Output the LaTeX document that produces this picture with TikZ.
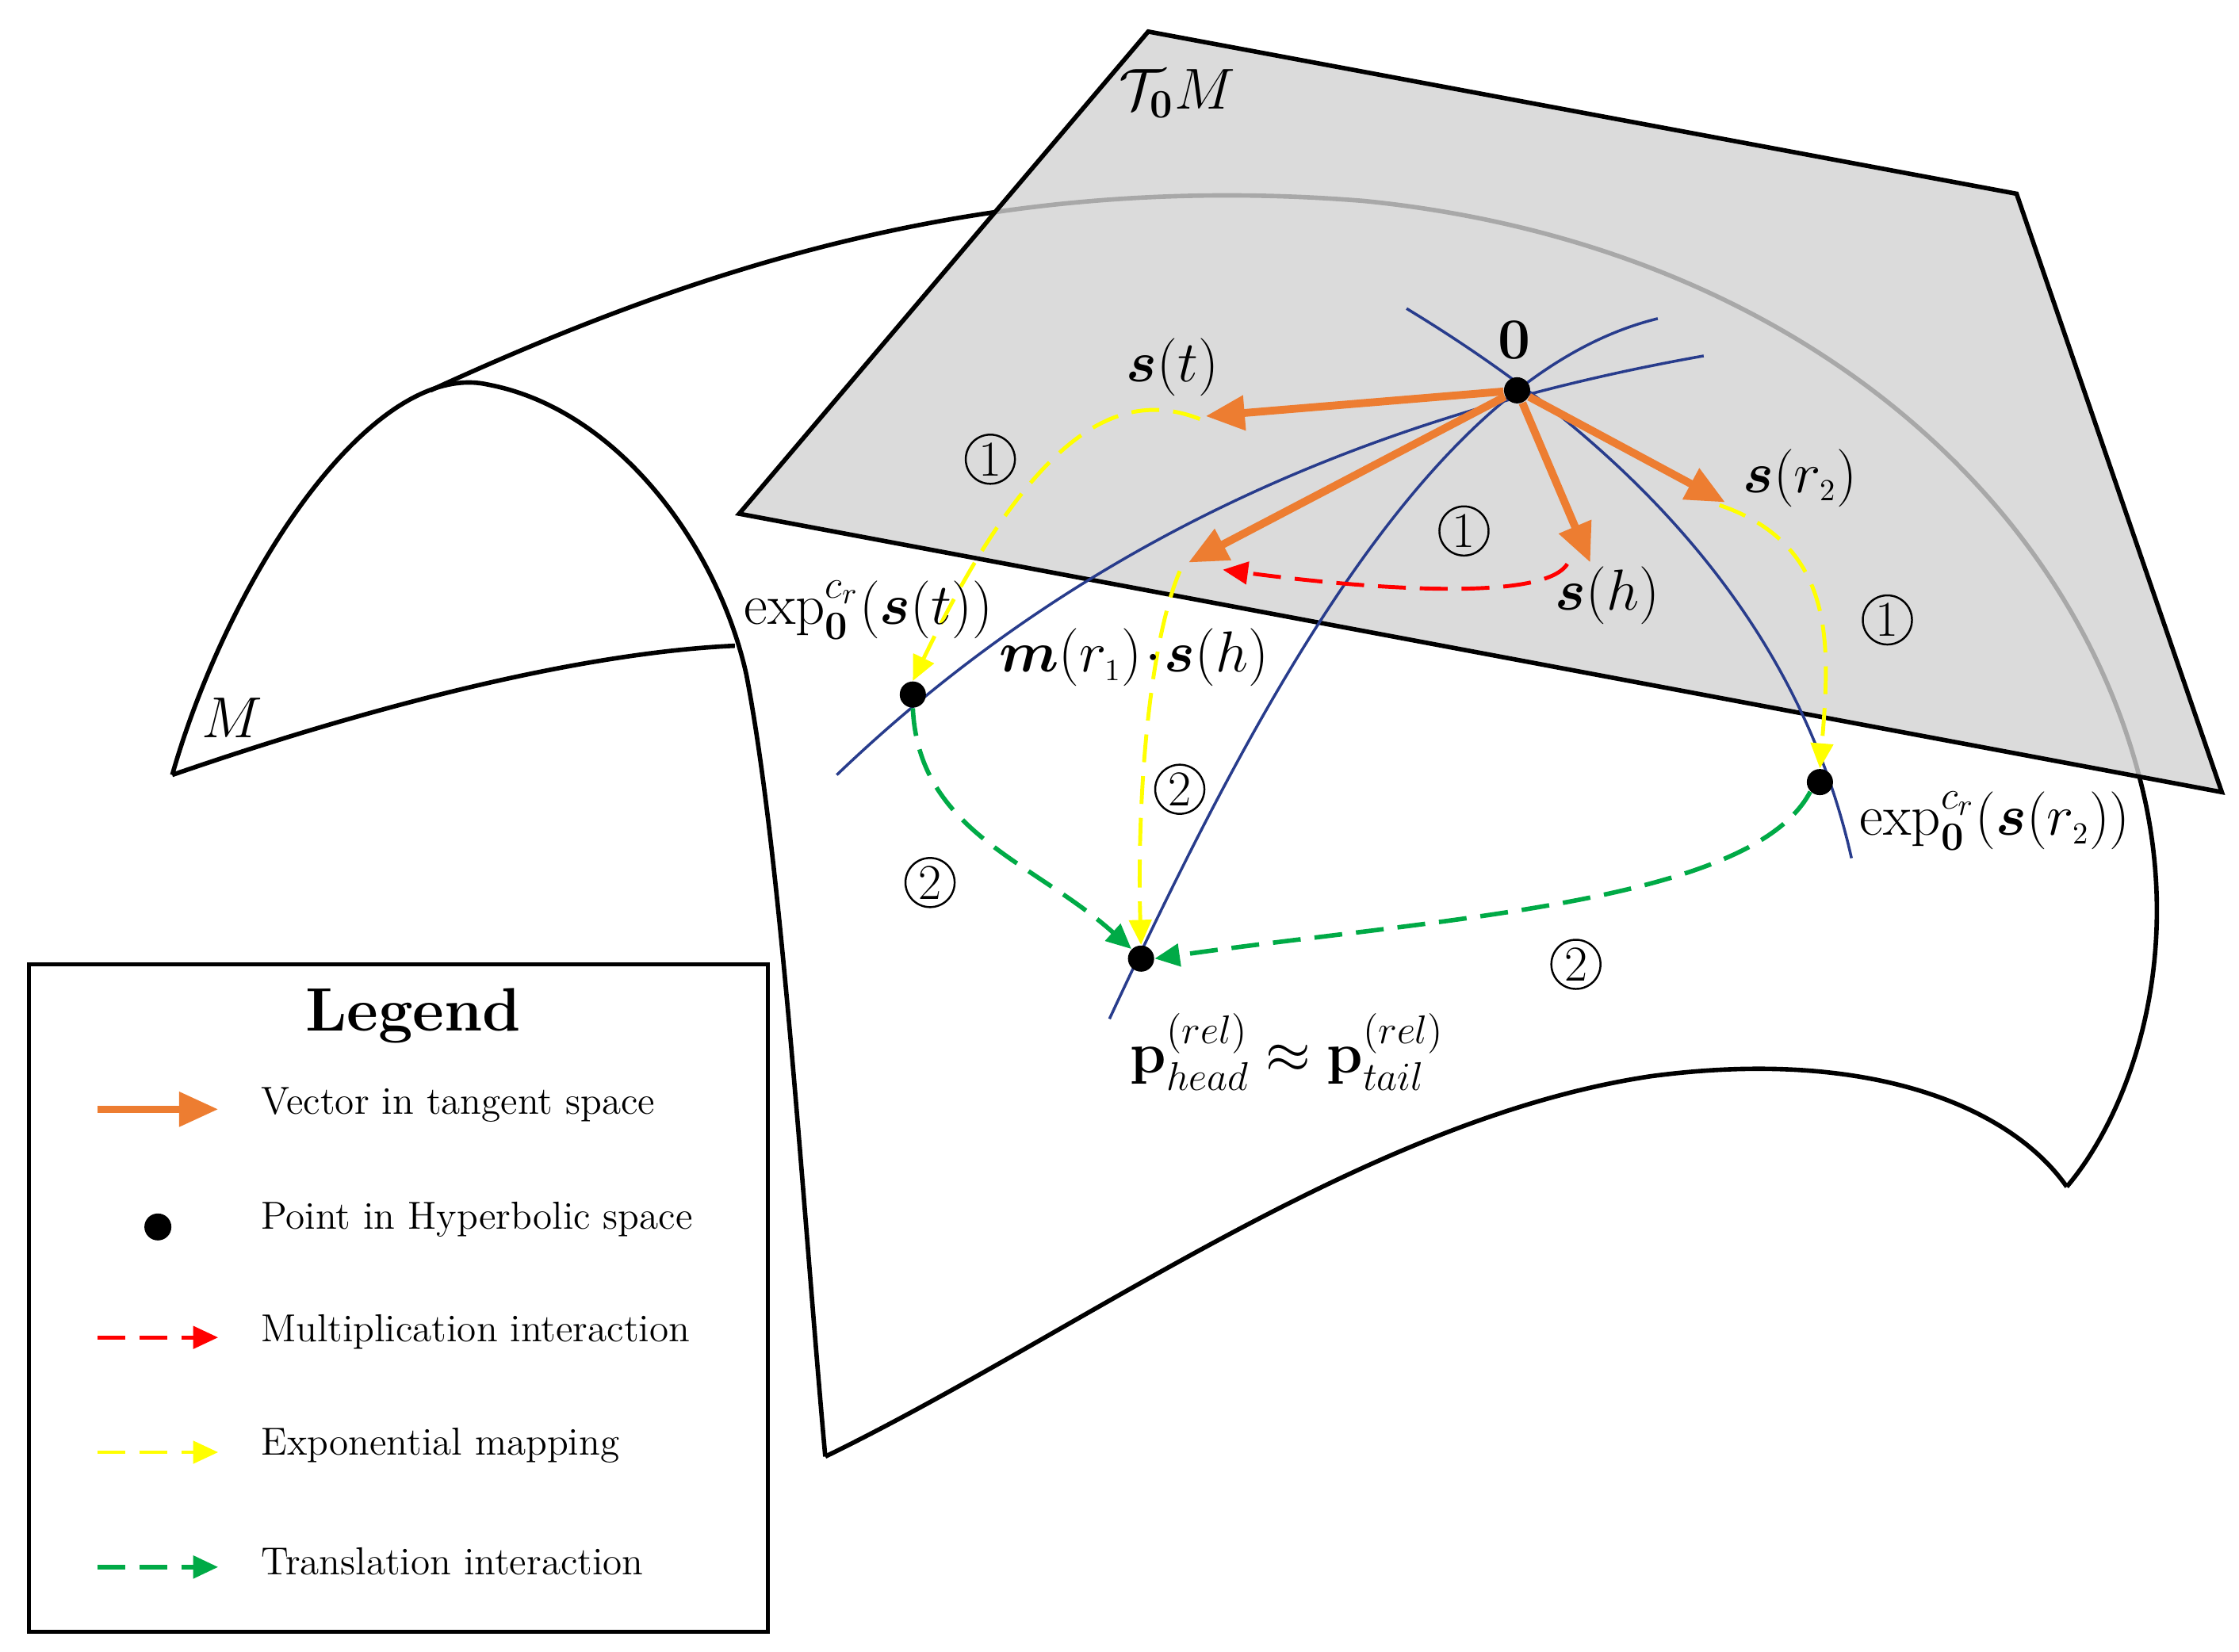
\documentclass[tikz,border=0pt]{standalone}
\usepackage{amsmath,bm}
\usetikzlibrary{arrows.meta}
\definecolor{org}{RGB}{237,125,49}
\definecolor{ylw}{RGB}{255,255,0}
\definecolor{grn}{RGB}{0,170,70}
\definecolor{blu}{RGB}{40,60,140}
\begin{document}
\begin{tikzpicture}[x=0.0181cm,y=-0.0181cm,
  edge/.style={line width=1.6pt,black},
  blue/.style={blu,line width=1pt},
  vec/.style={org,line width=2.8pt,-{Triangle[length=14pt,width=12pt]}},
  dot/.style={circle,fill=black,inner sep=0pt,minimum size=0.33cm},
  mul/.style={red,dashed,line width=1.4pt,dash pattern=on 10pt off 5pt,-{Triangle[length=9pt,width=8pt]}},
  ex/.style={ylw,line width=1.4pt,dash pattern=on 10pt off 5pt,-{Triangle[length=9pt,width=8pt]}},
  tr/.style={grn,line width=1.6pt,dash pattern=on 10pt off 5pt,-{Triangle[length=9pt,width=8pt]}},
  lab/.style={font=\fontsize{21}{25}\selectfont},
  cn/.style={circle,draw,line width=0.7pt,inner sep=0pt,minimum size=0.62cm,font=\fontsize{18}{20}\selectfont},
  leg/.style={anchor=west,font=\fontsize{14}{16}\selectfont}]
\useasboundingbox (0,0) rectangle (1560,1151);
% manifold
\draw[edge] (120,540) .. controls (160,400) and (260,250) .. (340,268)
  .. controls (430,285) and (500,380) .. (520,470)
  .. controls (545,600) and (560,850) .. (575,1015);
\draw[edge] (120,540) .. controls (250,495) and (400,455) .. (512,450);
\draw[edge] (300,272) .. controls (500,180) and (700,120) .. (950,140)
  .. controls (1250,170) and (1450,350) .. (1495,560)
  .. controls (1520,680) and (1480,780) .. (1440,827);
\draw[edge] (575,1015) .. controls (750,930) and (950,780) .. (1150,750)
  .. controls (1300,730) and (1400,770) .. (1440,827);
% plane
\draw[edge,fill=gray!35,fill opacity=0.8] (515,358) -- (800,22) -- (1405,135) -- (1548,552) -- cycle;
% blue curves
\draw[blue] (583,540) .. controls (750,380) and (950,290) .. (1187,248);
\draw[blue] (773,710) .. controls (880,480) and (1000,260) .. (1155,222);
\draw[blue] (980,215) .. controls (1120,300) and (1250,420) .. (1290,598);
% points
\node[dot] (o) at (1057,272) {};
\node[dot] (et) at (636,484) {};
\node[dot] (p) at (795,668) {};
\node[dot] (er) at (1268,545) {};
\coordinate (st) at (840,290);
\coordinate (ms) at (828,392);
\coordinate (sh) at (1108,392);
\coordinate (sr) at (1202,350);
\draw[vec] (o) -- (st);
\draw[vec] (o) -- (ms);
\draw[vec] (o) -- (sh);
\draw[vec] (o) -- (sr);
\draw[mul] (1092,393) .. controls (1075,420) and (950,410) .. (852,397);
\draw[ex] (836,292) .. controls (780,270) and (720,300) .. (et.north);
\draw[ex] (822,398) .. controls (800,450) and (792,560) .. (p.north);
\draw[ex] (1198,352) .. controls (1280,380) and (1275,450) .. (er.north);
\draw[tr] (et.south) .. controls (640,580) and (720,600) .. (p.north west);
\draw[tr] (er.south west) .. controls (1220,630) and (1000,640) .. (p.east);
% labels
\node[lab] at (820,65) {$\mathcal{T}_{\mathbf{0}}M$};
\node[lab] at (162,500) {$M$};
\node[lab] at (1055,237) {$\mathbf{0}$};
\node[lab] at (817,256) {$\bm{s}(t)$};
\node[lab] at (1254,333) {$\bm{s}(r_{\scriptscriptstyle 2})$};
\node[lab] at (1120,415) {$\bm{s}(h)$};
\node[lab] at (790,458) {$\bm{m}(r_{\scriptscriptstyle 1})\!\cdot\!\bm{s}(h)$};
\node[lab] at (605,425) {$\exp_{\mathbf{0}}^{c_r}(\bm{s}(t))$};
\node[lab] at (1390,572) {$\exp_{\mathbf{0}}^{c_r}(\bm{s}(r_{\scriptscriptstyle 2}))$};
\node[lab] at (897,733) {$\mathbf{p}^{(rel)}_{head}\approx\mathbf{p}^{(rel)}_{tail}$};
\node[cn] at (690,320) {1};
\node[cn] at (1020,370) {1};
\node[cn] at (1315,432) {1};
\node[cn] at (822,550) {2};
\node[cn] at (648,615) {2};
\node[cn] at (1098,672) {2};
% legend
\draw[line width=1.4pt,fill=white] (20,672) rectangle (535,1137);
\node[font=\fontsize{22}{26}\selectfont\bfseries] at (288,708) {Legend};
\coordinate (l1a) at (68,773); \coordinate (l1b) at (152,773);
\draw[vec,line width=2.5pt] (l1a) -- (l1b);
\node[leg] at (175,770) {Vector in tangent space};
\node[dot,minimum size=0.34cm] (ld) at (110,855) {};
\node[leg] at (175,850) {Point in Hyperbolic space};
\coordinate (l3a) at (68,932); \coordinate (l3b) at (152,932);
\draw[mul] (l3a) -- (l3b);
\node[leg] at (175,928) {Multiplication interaction};
\coordinate (l4a) at (68,1012); \coordinate (l4b) at (152,1012);
\draw[ex] (l4a) -- (l4b);
\node[leg] at (175,1007) {Exponential mapping};
\coordinate (l5a) at (68,1092); \coordinate (l5b) at (152,1092);
\draw[tr] (l5a) -- (l5b);
\node[leg] at (175,1088) {Translation interaction};
\end{tikzpicture}
\end{document}
